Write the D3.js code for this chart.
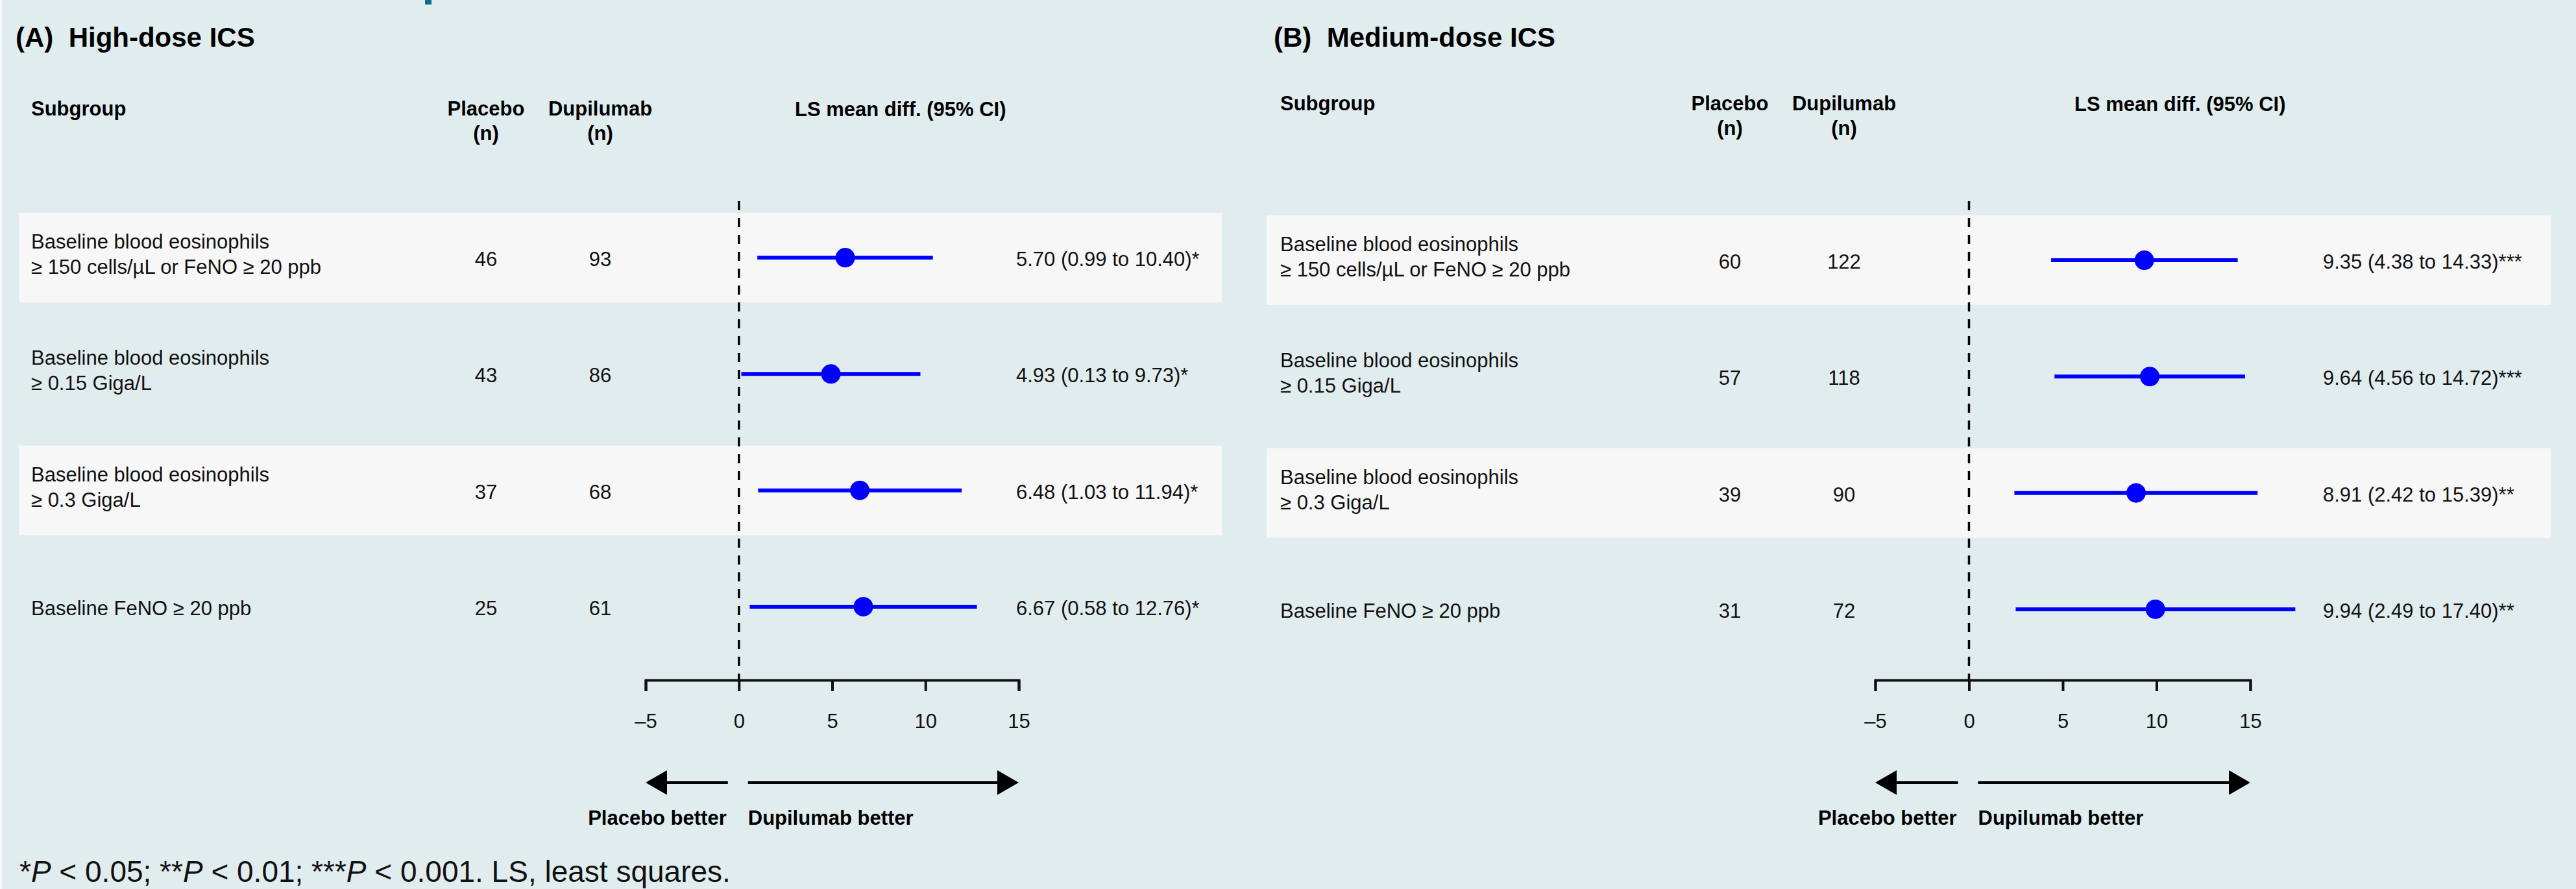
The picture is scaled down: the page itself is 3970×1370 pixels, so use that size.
<!DOCTYPE html>
<html>
<head>
<meta charset="utf-8">
<script src="https://cdnjs.cloudflare.com/ajax/libs/d3/7.8.5/d3.min.js"></script>
<style>
  body { margin: 0; background: #e1ecee; }
  text { font-family: "Liberation Sans", Arial, Helvetica, sans-serif; }
</style>
</head>
<body>
<script>
// Subgroup labels (one entry per row, split into lines)
var subgroupLines = [
    ["Baseline blood eosinophils", "≥ 150 cells/µL or FeNO ≥ 20 ppb"],
    ["Baseline blood eosinophils", "≥ 0.15 Giga/L"],
    ["Baseline blood eosinophils", "≥ 0.3 Giga/L"],
    ["Baseline FeNO ≥ 20 ppb"]
];

// (A) High-dose ICS
var highPlacebo = [46, 43, 37, 25];
var highDupilumab = [93, 86, 68, 61];
var highEstimate = [5.70, 4.93, 6.48, 6.67];
var highLower = [0.99, 0.13, 1.03, 0.58];
var highUpper = [10.40, 9.73, 11.94, 12.76];
var highSig = ["*", "*", "*", "*"];

// (B) Medium-dose ICS
var medPlacebo = [60, 57, 39, 31];
var medDupilumab = [122, 118, 90, 72];
var medEstimate = [9.35, 9.64, 8.91, 9.94];
var medLower = [4.38, 4.56, 2.42, 2.49];
var medUpper = [14.33, 14.72, 15.39, 17.40];
var medSig = ["***", "***", "**", "**"];

var xTicks = [-5, 0, 5, 10, 15];
var xDomain = [-5, 15];

var svgWidth = 3970;
var svgHeight = 1370;

var svg = d3.select("body")
    .append("svg")
    .attr("width", svgWidth)
    .attr("height", svgHeight);

svg.append("rect")
    .attr("width", svgWidth)
    .attr("height", svgHeight)
    .attr("fill", "#e1ecee");

svg.append("rect")
    .attr("width", 3)
    .attr("height", svgHeight)
    .attr("fill", "#f4f8f8");

// bit of a cut-off heading above the figure
svg.append("rect")
    .attr("x", 655)
    .attr("width", 10)
    .attr("height", 7)
    .attr("fill", "#0f6b8c");

// rows share one band scale (alternate rows get a light band)
var yBand = d3.scaleBand()
    .domain(d3.range(subgroupLines.length))
    .range([328, 1004])
    .paddingInner(0.23);

var axisY = 1048;
var arrowY = 1206;

function drawPanel(p) {
    var g = svg.append("g");

    var rows = subgroupLines.map(function (lines, i) {
        return {
            lines: lines,
            placebo: p.placebo[i],
            dupilumab: p.dupilumab[i],
            est: p.estimate[i],
            lo: p.lower[i],
            hi: p.upper[i],
            sig: p.sig[i],
            i: i
        };
    });

    var x = d3.scaleLinear()
        .domain(xDomain)
        .range(p.xRange);

    var rowY = function (d) { return yBand(d.i) + yBand.bandwidth() / 2 + p.rowShift; };

    // background bands
    g.selectAll(".band")
        .data(rows.filter(function (d) { return d.i % 2 === 0; }))
        .enter()
        .append("rect")
        .attr("class", "band")
        .attr("x", p.bandX0)
        .attr("width", p.bandX1 - p.bandX0)
        .attr("y", function (d) { return yBand(d.i) + p.rowShift; })
        .attr("height", yBand.bandwidth())
        .attr("fill", "#f7f7f7");

    // title + headers
    g.append("text")
        .attr("x", p.titleX)
        .attr("y", 72)
        .attr("font-size", 42)
        .attr("font-weight", "bold")
        .style("white-space", "pre")
        .text(p.title);

    var header = g.append("g")
        .attr("font-size", 31)
        .attr("font-weight", "bold");

    header.append("text")
        .attr("x", p.labelX)
        .attr("y", p.headerY)
        .text("Subgroup");

    [["Placebo", p.placeboX], ["Dupilumab", p.dupiX]].forEach(function (h) {
        var t = header.append("text")
            .attr("text-anchor", "middle")
            .attr("y", p.headerY);
        t.append("tspan").attr("x", h[1]).text(h[0]);
        t.append("tspan").attr("x", h[1]).attr("dy", 38).text("(n)");
    });

    header.append("text")
        .attr("x", p.lsX)
        .attr("y", p.headerY + 1)
        .text("LS mean diff. (95% CI)");

    // subgroup labels
    var labels = g.selectAll(".rowLabel")
        .data(rows)
        .enter()
        .append("text")
        .attr("class", "rowLabel")
        .attr("font-size", 31)
        .attr("fill", "#111");

    labels.each(function (d) {
        var t = d3.select(this);
        var y0 = d.lines.length > 1 ? rowY(d) - 14 : rowY(d) + 13;
        d.lines.forEach(function (line, k) {
            t.append("tspan")
                .attr("x", p.labelX)
                .attr("y", y0 + k * 39)
                .text(line);
        });
    });

    // n columns
    g.selectAll(".nPlacebo")
        .data(rows)
        .enter()
        .append("text")
        .attr("class", "nPlacebo")
        .attr("x", p.placeboX)
        .attr("y", function (d) { return rowY(d) + 13; })
        .attr("text-anchor", "middle")
        .attr("font-size", 31)
        .attr("fill", "#111")
        .text(function (d) { return d.placebo; });

    g.selectAll(".nDupi")
        .data(rows)
        .enter()
        .append("text")
        .attr("class", "nDupi")
        .attr("x", p.dupiX)
        .attr("y", function (d) { return rowY(d) + 13; })
        .attr("text-anchor", "middle")
        .attr("font-size", 31)
        .attr("fill", "#111")
        .text(function (d) { return d.dupilumab; });

    // reference line at 0
    g.append("line")
        .attr("x1", x(0))
        .attr("x2", x(0))
        .attr("y1", 310)
        .attr("y2", axisY)
        .attr("stroke", "#000")
        .attr("stroke-width", 3.5)
        .attr("stroke-dasharray", "14,12");

    // CI lines and points
    g.selectAll(".ci")
        .data(rows)
        .enter()
        .append("line")
        .attr("class", "ci")
        .attr("x1", function (d) { return x(d.lo); })
        .attr("x2", function (d) { return x(d.hi); })
        .attr("y1", rowY)
        .attr("y2", rowY)
        .attr("stroke", "#0000ff")
        .attr("stroke-width", 6);

    g.selectAll(".pt")
        .data(rows)
        .enter()
        .append("circle")
        .attr("class", "pt")
        .attr("cx", function (d) { return x(d.est); })
        .attr("cy", rowY)
        .attr("r", 15)
        .attr("fill", "#0000ff");

    // result text
    g.selectAll(".result")
        .data(rows)
        .enter()
        .append("text")
        .attr("class", "result")
        .attr("x", p.resultX)
        .attr("y", function (d) { return rowY(d) + 13; })
        .attr("font-size", 31)
        .attr("fill", "#111")
        .text(function (d) {
            return d.est.toFixed(2) + " (" + d.lo.toFixed(2) + " to " + d.hi.toFixed(2) + ")" + d.sig;
        });

    // x axis
    var xAxis = d3.axisBottom(x)
        .tickValues(xTicks)
        .tickSize(17)
        .tickSizeOuter(17)
        .tickPadding(35)
        .tickFormat(function (d) { return d < 0 ? "\u2013" + Math.abs(d) : d; });

    var axisG = g.append("g")
        .attr("transform", "translate(0," + axisY + ")")
        .call(xAxis);

    axisG.selectAll("path, line")
        .attr("stroke", "#111")
        .attr("stroke-width", 4);
    axisG.selectAll("text")
        .attr("font-size", 31)
        .attr("font-family", "Liberation Sans, Arial, sans-serif")
        .attr("fill", "#111");

    // direction arrows
    var arrows = g.append("g")
        .attr("stroke", "#000")
        .attr("fill", "#000");

    arrows.append("line")
        .attr("x1", x(0) - 17)
        .attr("x2", x(-5) + 20)
        .attr("y1", arrowY)
        .attr("y2", arrowY)
        .attr("stroke-width", 4);
    arrows.append("path")
        .attr("stroke", "none")
        .attr("d", "M" + x(-5) + "," + arrowY + "L" + (x(-5) + 33) + "," + (arrowY - 19) + "L" + (x(-5) + 33) + "," + (arrowY + 19) + "Z");

    arrows.append("line")
        .attr("x1", x(0) + 14)
        .attr("x2", x(15) - 20)
        .attr("y1", arrowY)
        .attr("y2", arrowY)
        .attr("stroke-width", 4);
    arrows.append("path")
        .attr("stroke", "none")
        .attr("d", "M" + x(15) + "," + arrowY + "L" + (x(15) - 33) + "," + (arrowY - 19) + "L" + (x(15) - 33) + "," + (arrowY + 19) + "Z");

    g.append("text")
        .attr("x", x(0) - 19)
        .attr("y", 1271)
        .attr("text-anchor", "end")
        .attr("font-size", 31)
        .attr("font-weight", "bold")
        .text("Placebo better");

    g.append("text")
        .attr("x", x(0) + 14)
        .attr("y", 1271)
        .attr("font-size", 31)
        .attr("font-weight", "bold")
        .text("Dupilumab better");
}

drawPanel({
    title: "(A)  High-dose ICS",
    placebo: highPlacebo, dupilumab: highDupilumab,
    estimate: highEstimate, lower: highLower, upper: highUpper, sig: highSig,
    bandX0: 29, bandX1: 1883,
    titleX: 24, labelX: 48, placeboX: 749, dupiX: 925,
    lsX: 1225, resultX: 1566, headerY: 178,
    xRange: [995, 1570], rowShift: 0
});

drawPanel({
    title: "(B)  Medium-dose ICS",
    placebo: medPlacebo, dupilumab: medDupilumab,
    estimate: medEstimate, lower: medLower, upper: medUpper, sig: medSig,
    bandX0: 1952, bandX1: 3931,
    titleX: 1963, labelX: 1973, placeboX: 2666, dupiX: 2842,
    lsX: 3197, resultX: 3580, headerY: 170,
    xRange: [2890, 3468], rowShift: 4
});

// footnote
var foot = svg.append("text")
    .attr("x", 30)
    .attr("y", 1359)
    .attr("font-size", 46)
    .attr("fill", "#111");
foot.append("tspan").text("*");
foot.append("tspan").attr("font-style", "italic").text("P");
foot.append("tspan").text(" < 0.05; **");
foot.append("tspan").attr("font-style", "italic").text("P");
foot.append("tspan").text(" < 0.01; ***");
foot.append("tspan").attr("font-style", "italic").text("P");
foot.append("tspan").text(" < 0.001. LS, least squares.");
</script>
</body>
</html>
